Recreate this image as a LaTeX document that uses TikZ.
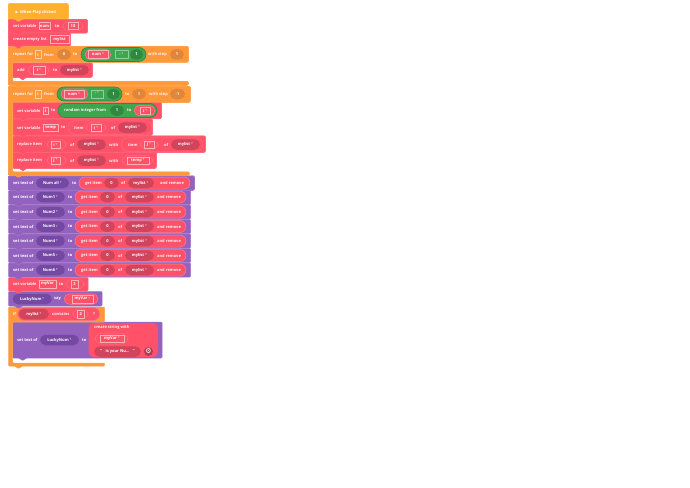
\documentclass[tikz,border=0pt]{standalone}
\usepackage{fontspec}
\setmainfont{Open Sans}
\newfontfamily\symb{DejaVu Sans}
\definecolor{hatcol}{HTML}{FFB02E}
\definecolor{ctrl}{HTML}{FF9838}
\definecolor{redb}{HTML}{FF5268}
\definecolor{redd}{HTML}{D2445C}
\definecolor{purp}{HTML}{9262BE}
\definecolor{purd}{HTML}{7549A3}
\definecolor{grn}{HTML}{3FA650}
\definecolor{grnd}{HTML}{2F8A3F}
\definecolor{ctrld}{HTML}{E0863A}
\newcommand{\dd}{\,\smash{\raisebox{-1.1pt}{\symb\fontsize{4.6}{4}\selectfont ˅}}}
% block with tab: x1,y1,x2,y2,colour
\newcommand{\blk}[5]{\draw[block,fill=#5,draw=#5!88!white] (#1,#2) -- (#3,#2) -- (#3,#4) -- ({#1+14},#4) -- ({#1+10},{#4+2.5}) -- ({#1+6},#4) -- (#1,#4) -- cycle;}
% c shaped block: x1,y1,x2(head),y2(head),y3(inner end),y4(foot),x3(foot)
\newcommand{\cblk}[7]{\draw[block,fill=ctrl,draw=ctrl!88!white] (#1,#2) -- (#3,#2) -- (#3,#4) -- ({#1+4.2},#4) -- ({#1+4.2},#5) -- (#7,#5) -- (#7,#6) -- ({#1+14},#6) -- ({#1+10},{#6+2.5}) -- ({#1+6},#6) -- (#1,#6) -- cycle;}
% pill: name,x1,x2,y,style,text
\newcommand{\pil}[6]{\node[#5,minimum width={(#3)-(#2)}] (#1) at ({(#2+#3)/2},#4) {#6};}
\tikzset{
  block/.style={line width=0.5pt,rounded corners=0.8pt},
  lb/.style={anchor=west,inner sep=0pt,text=white!92!redb,font=\fontsize{4}{4}\selectfont\bfseries},
  pillbase/.style={inner sep=0pt,text=white,font=\fontsize{4}{4}\selectfont\bfseries,rounded corners=5.5pt,minimum height=10.5pt},
  dred/.style={pillbase,fill=redd},
  dpur/.style={pillbase,fill=purd},
  dgrn/.style={pillbase,fill=grnd},
  dorg/.style={pillbase,fill=ctrld},
  redp/.style={pillbase,fill=redb,draw=white!25!redb,line width=0.5pt},
  grnp/.style={pillbase,fill=grn,draw=grnd,line width=0.6pt,rounded corners=7pt,minimum height=14pt},
  palep/.style={pillbase,fill=redb,draw=white!14!redb,line width=0.5pt,rounded corners=7pt,minimum height=13.5pt},
  vbox/.style={inner sep=0pt,text=white,font=\fontsize{4}{4}\selectfont\bfseries,draw=white!55!redb,line width=0.5pt,minimum height=7.5pt}
}
\begin{document}
\begin{tikzpicture}[x=1pt,y=-1pt,line join=round]
\useasboundingbox (0,0) rectangle (690,487);
% blocks, from the bottom up
\blk{12.7}{322}{162}{358}{purp}
\cblk{8.5}{307}{104.5}{322}{363}{366}{104.5}
\blk{8.5}{291.5}{102}{306}{purp}
\blk{8.5}{277.5}{88}{291}{redb}
\foreach \y in {263,248.5,234,219.5,205,190.5}
\blk{8.5}{\y}{190.5}{\y+14}{purp}
\blk{8.5}{176}{194}{190}{purp}
\blk{13}{152.5}{156}{168}{redb}
\blk{13}{136}{205}{152}{redb}
\blk{13}{119}{152}{135}{redb}
\blk{13}{102.5}{161}{118.5}{redb}
\cblk{8.5}{86.5}{190}{102}{172}{175}{189}
\blk{12.7}{63}{92}{77}{redb}
\cblk{8.5}{46.5}{188}{62}{81.5}{85}{188}
\blk{8.5}{33}{70}{46}{redb}
\blk{8.5}{19.5}{87}{33}{redb}
\blk{8.5}{4}{68}{19}{hatcol}
% hat
\node[lb,text=white] (hat) at (15.5,12) {{\symb\fontsize{3.5}{4}\selectfont ▶}\, When Play clicked};
% set variable num
\node[lb] (setnum) at (13,26) {set variable};
\pil{numbox}{39}{50}{26}{vbox}{num}
\node[lb] (tonum) at (55,26) {to};
\pil{tenpill}{63}{83}{26}{palep,minimum height=10.5pt}{}
\pil{tenbox}{68}{78}{26}{vbox}{10}
% empty list
\node[lb] (mklist) at (13,39.5) {create empty list};
\pil{listbox}{50}{69}{39.5}{vbox}{mylist}
% first repeat
\node[lb] (rep) at (13,54.5) {repeat for};
\pil{ibox}{35}{41}{54.5}{vbox,draw=white!55!ctrl}{i}
\node[lb] (from) at (44,54.5) {from};
\pil{zero}{57}{71}{54.5}{dorg}{0}
\node[lb] (to) at (73,54.5) {to};
\pil{cmp}{81}{146}{54.5}{grnp}{}
\pil{cmpl}{85}{111}{54.5}{redp}{}
\pil{cmpb}{88}{108}{54.5}{vbox}{num\dd}
\pil{cmpo}{115}{128}{54.5}{vbox,draw=white!45!grn}{-\dd}
\pil{cmpr}{130}{143}{54.5}{dgrn}{1}
\node[lb] (step) at (148,54.5) {with step};
\pil{stepv}{170}{184}{54.5}{dorg}{1}
% add
\node[lb] (add) at (17,70) {add};
\pil{addp}{28}{49}{70}{palep,minimum height=10.5pt}{}
\pil{addb}{33}{45}{70}{vbox}{i\dd}
\node[lb] (addto) at (53,70) {to};
\pil{addl}{60}{89}{70}{dred}{mylist\dd}
% second repeat
\node[lb] (repb) at (13,94) {repeat for};
\pil{iboxb}{35}{41}{94}{vbox,draw=white!55!ctrl}{i}
\node[lb] (fromb) at (44,94) {from};
\pil{cmpB}{57}{122}{94}{grnp}{}
\pil{cmpBl}{61}{88}{94}{redp}{}
\pil{cmpBb}{64}{84}{94}{vbox}{num\dd}
\pil{cmpBo}{91}{103}{94}{vbox,draw=white!45!grn}{-\dd}
\pil{cmpBr}{107}{120}{94}{dgrn}{1}
\node[lb] (tob) at (125,94) {to};
\pil{oneb}{132}{146}{94}{dorg}{1}
\node[lb] (stepb) at (149,94) {with step};
\pil{stepvb}{170}{185}{94}{dorg}{-1}
% set j
\node[lb] (setj) at (17,110.5) {set variable};
\pil{jbox}{43.5}{48}{110.5}{vbox}{j}
\node[lb] (toj) at (51,110.5) {to};
\pil{rnd}{58}{157}{110.5}{grnp}{}
\node[lb] (rndt) at (64,110.5) {random integer from};
\pil{rndo}{110}{124}{110.5}{dgrn}{1}
\node[lb] (rndto) at (127,110.5) {to};
\pil{rndp}{134}{155}{110.5}{redp}{}
\pil{rndb}{140}{150}{110.5}{vbox}{i\dd}
% set temp
\node[lb] (settemp) at (17,127.5) {set variable};
\pil{tempbox}{43.5}{58}{127.5}{vbox}{temp}
\node[lb] (totemp) at (61,127.5) {to};
\pil{itm}{68}{152}{127.5}{palep}{}
\node[lb] (itmt) at (74,127.5) {item};
\pil{itmp}{86}{106}{127.5}{palep,minimum height=10.5pt}{}
\pil{itmb}{91}{101}{127.5}{vbox}{i\dd}
\node[lb] (itmof) at (111,127.5) {of};
\pil{itml}{118}{147}{127.5}{dred}{mylist\dd}
% replace i
\node[lb] (repi) at (17,144.5) {replace item};
\pil{repip}{47}{66}{144.5}{palep,minimum height=10.5pt}{}
\pil{repib}{51}{60}{144.5}{vbox}{i\dd}
\node[lb] (repiof) at (70,144.5) {of};
\pil{repil}{77}{106}{144.5}{dred}{mylist\dd}
\node[lb] (repiw) at (109,144.5) {with};
\pil{repit}{121}{203}{144.5}{palep}{}
\node[lb] (repitt) at (128,144.5) {item};
\pil{repitp}{140}{158}{144.5}{palep,minimum height=10.5pt}{}
\pil{repitb}{144}{154}{144.5}{vbox}{j\dd}
\node[lb] (repitof) at (164,144.5) {of};
\pil{repitl}{171}{200}{144.5}{dred}{mylist\dd}
% replace j
\node[lb] (repj) at (17,160.5) {replace item};
\pil{repjp}{47}{66}{160.5}{palep,minimum height=10.5pt}{}
\pil{repjb}{51}{60}{160.5}{vbox}{j\dd}
\node[lb] (repjof) at (70,160.5) {of};
\pil{repjl}{77}{106}{160.5}{dred}{mylist\dd}
\node[lb] (repjw) at (109,160.5) {with};
\pil{repjt}{122}{153}{160.5}{palep,minimum height=10.5pt}{}
\pil{repjb2}{127}{149}{160.5}{vbox}{temp\dd}
% set text rows
\node[lb,text=white] (allt) at (13,183) {set text of};
\pil{allp}{36}{69}{183}{dpur}{Num all\dd}
\node[lb,text=white] (allto) at (72,183) {to};
\pil{allg}{79}{190}{183}{redp,rounded corners=6pt,minimum height=12pt}{}
\node[lb] (allgt) at (85,183) {get item};
\pil{allz}{104}{119}{183}{dred}{0}
\node[lb] (allof) at (121,183) {of};
\pil{alll}{128}{154}{183}{dred}{mylist\dd}
\node[lb] (allr) at (160,183) {and remove};
\foreach \n/\y in {1/197,2/212,3/226.5,4/241,5/255.5,6/270}{
\node[lb,text=white] (t\n) at (13,\y) {set text of};
\pil{p\n}{36}{65}{\y}{dpur}{Num\n\dd}
\node[lb,text=white] (to\n) at (68,\y) {to};
\pil{g\n}{75}{186}{\y}{redp,rounded corners=6pt,minimum height=12pt}{}
\node[lb] (gt\n) at (81,\y) {get item};
\pil{z\n}{100}{115}{\y}{dred}{0}
\node[lb] (of\n) at (118,\y) {of};
\pil{l\n}{125}{154}{\y}{dred}{mylist\dd}
\node[lb] (r\n) at (157,\y) {and remove};
}
% myVar
\node[lb] (setv) at (13,284) {set variable};
\pil{vbox}{39}{56}{284}{vbox}{myVar}
\node[lb] (tov) at (59,284) {to};
\pil{twop}{66}{84}{284}{palep,minimum height=10.5pt}{}
\pil{twob}{71}{78}{284}{vbox}{2}
% say
\pil{lucky}{12.5}{52}{299}{dpur}{LuckyNum\dd}
\node[lb,text=white] (say) at (54,299) {say};
\pil{sayp}{64}{98}{299}{redp}{}
\pil{sayb}{72}{93}{299}{vbox}{myVar\dd}
% if
\node[lb] (ift) at (13,314) {if};
\pil{ifp}{17.5}{100}{314}{redp,rounded corners=6.5pt,minimum height=13pt}{}
\pil{ifl}{19}{49}{314}{dred}{mylist\dd}
\node[lb] (cont) at (52,314) {contains};
\pil{ifv}{73}{88}{314}{palep,minimum height=10.5pt}{}
\pil{ifb}{77}{84.5}{314}{vbox}{2}
\node[lb] (q) at (93,314) {?};
% inner
\node[lb,text=white] (itx) at (17,340) {set text of};
\pil{ilucky}{40}{79}{340}{dpur}{LuckyNum\dd}
\node[lb,text=white] (ito) at (82,340) {to};
\pil{mk}{88.5}{158}{340}{pillbase,fill=redb,rounded corners=5pt,minimum height=34pt}{}
\node[lb] (mkt) at (94,327.5) {create string with};
\pil{mkp}{95}{128}{338.5}{palep,minimum height=11pt}{}
\pil{mkb}{100}{124}{338.5}{vbox}{myVar\dd}
\pil{mks}{94}{141}{351.5}{dred}{“\hspace{3.5pt}is your Nu...\hspace{3.5pt}”}
\pil{gear}{144}{153}{351.5}{dred,rounded corners=4.5pt,minimum height=9pt,fill=redd!85!black}{{\symb\fontsize{7}{6}\selectfont ⚙}}
\end{tikzpicture}
\end{document}
